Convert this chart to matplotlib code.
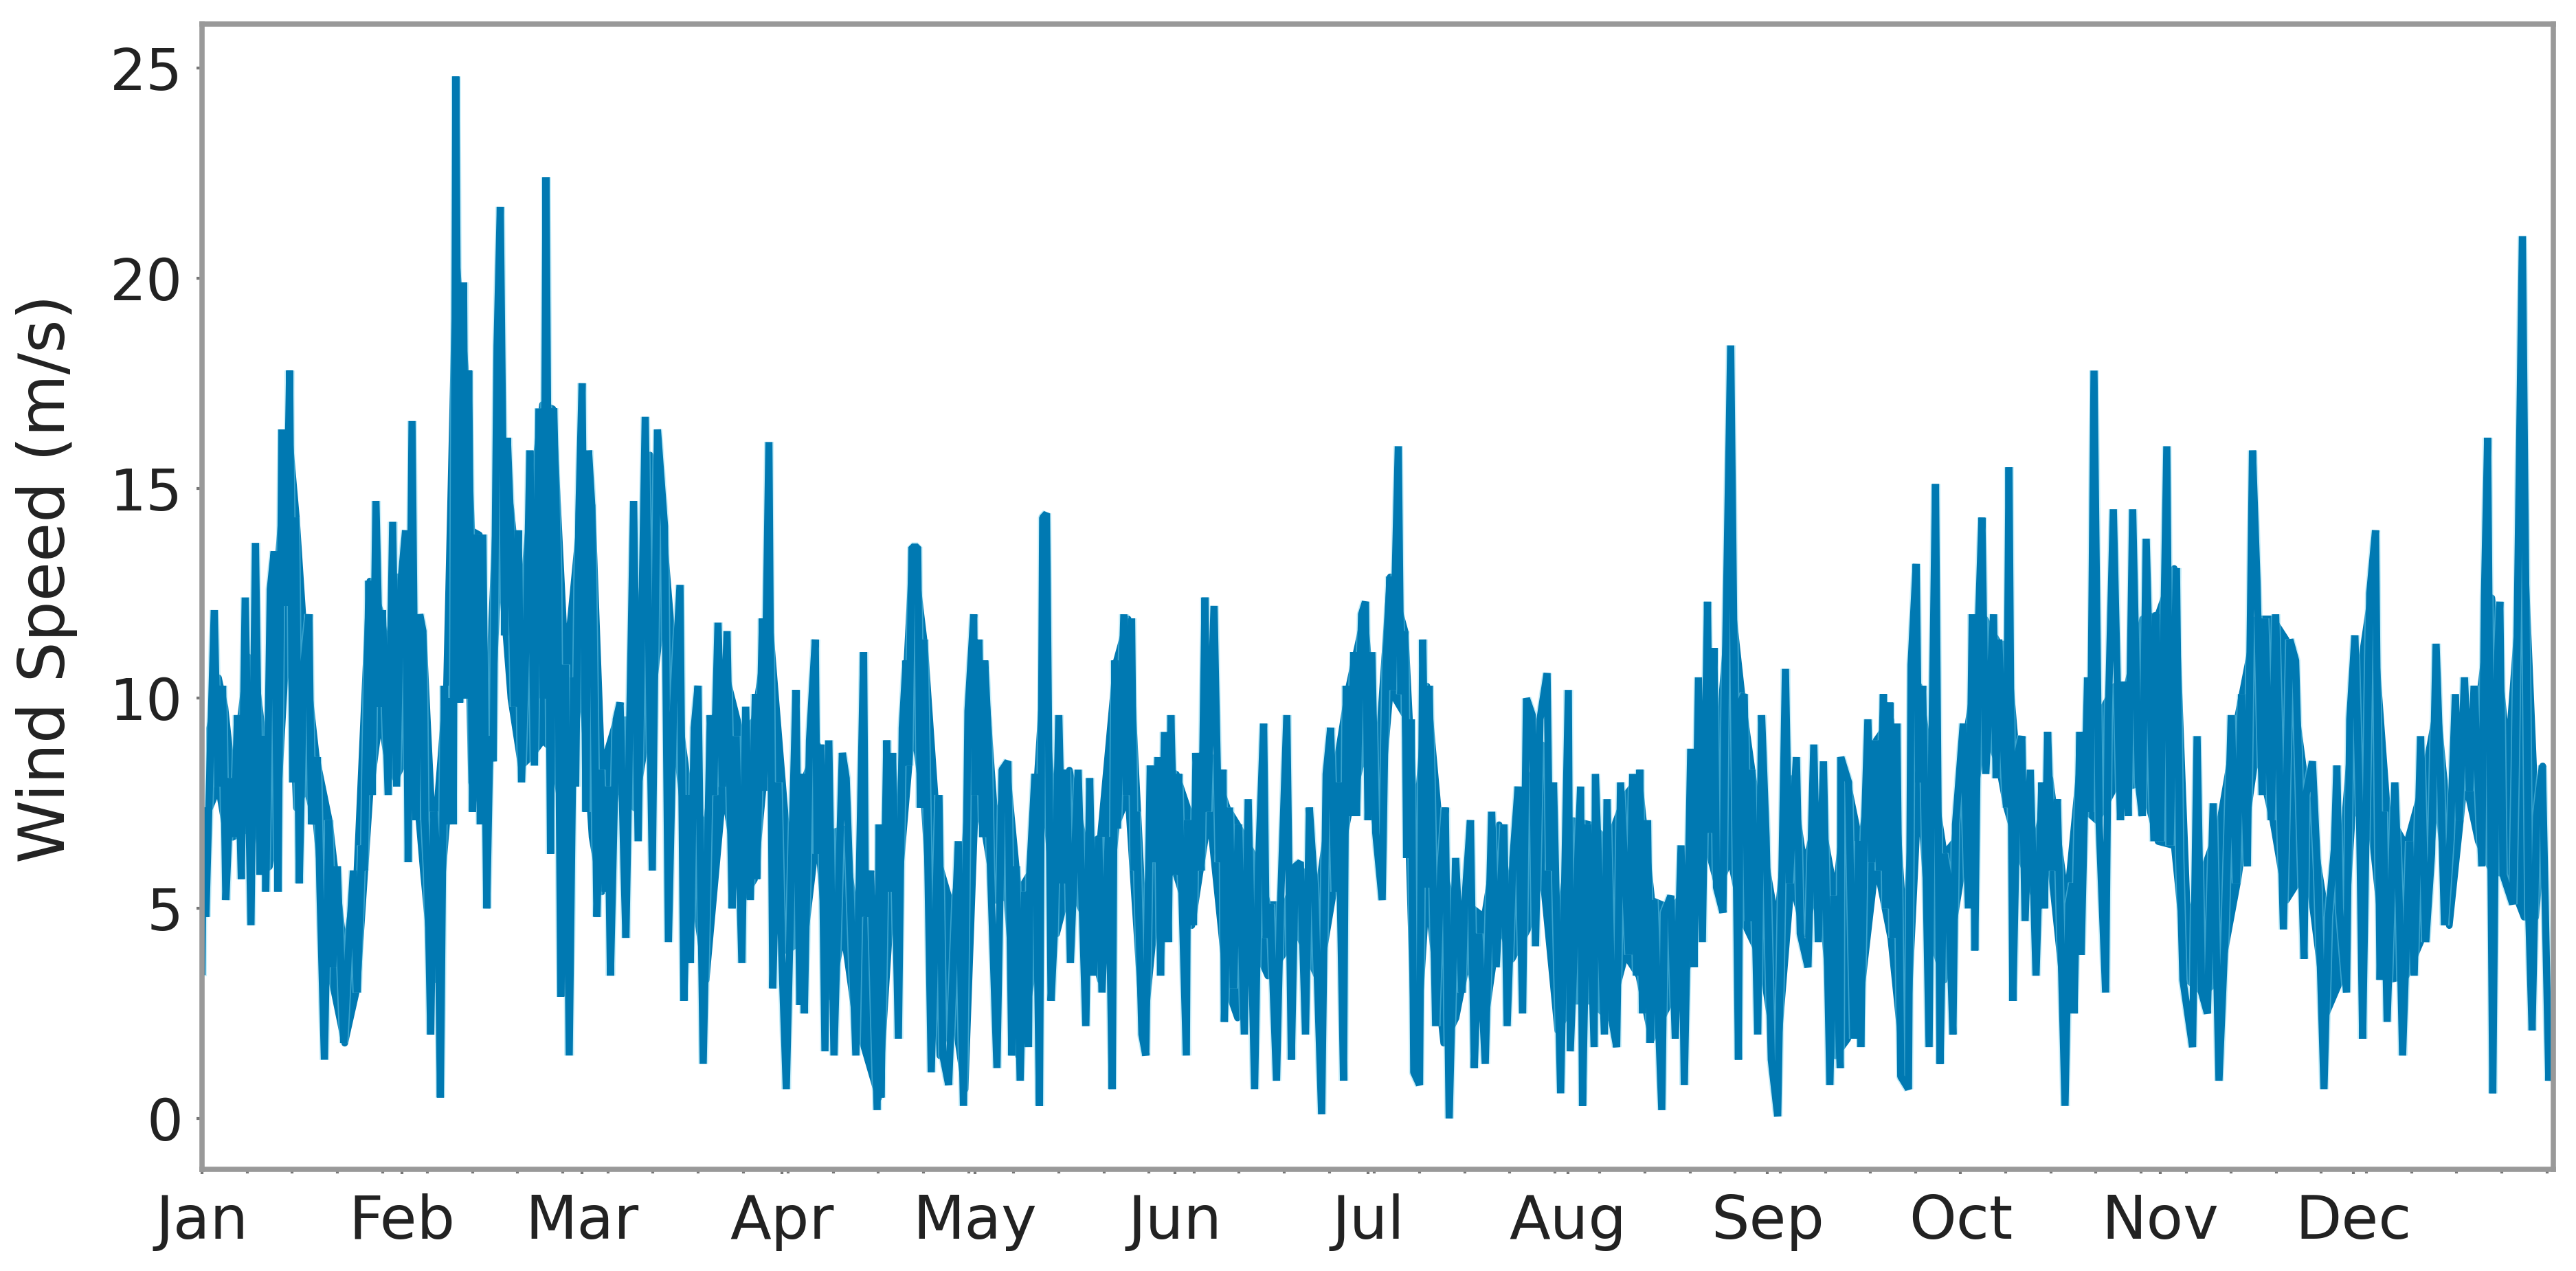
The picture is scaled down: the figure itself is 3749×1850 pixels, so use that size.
import numpy as np
import matplotlib
matplotlib.use("Agg")
import matplotlib.pyplot as plt

# wind speed, one pair of lists per two month stretch
jan_feb_days = [0.0, 0.2, 0.6, 1.9, 2.5, 3.2, 3.7, 4.5, 5.0, 5.5, 6.1, 6.7, 7.6, 8.3, 9.0, 9.6, 9.9, 10.6, 11.2, 11.8,
                12.4, 13.0, 13.6, 14.1, 14.5, 15.1, 15.8, 16.6, 17.0, 17.9, 18.3, 19.0, 19.7, 20.3, 21.0, 22.0, 22.7,
                23.5, 24.1, 24.8, 25.2, 25.9, 26.4, 27.0, 27.7, 28.0, 28.9, 29.6, 30.2, 30.9, 31.6, 32.0, 32.6, 33.2,
                33.8, 34.3, 34.6, 35.0, 35.5, 36.0, 36.6, 37.0, 37.6, 38.1, 38.7, 39.0, 39.4, 40.0, 40.6, 41.0, 41.4,
                42.0, 42.6, 43.2, 43.6, 44.2, 44.7, 45.2, 45.8, 46.3, 47.0, 47.4, 47.9, 48.5, 49.1, 49.6, 50.4, 50.9,
                51.6, 52.3, 53.0, 53.4, 54.1, 54.6, 55.2, 55.7, 56.4, 57.0, 57.7, 58.0, 58.5, 59.0, 59.6, 60.0, 60.5]
jan_feb_speed = [3.5, 7.4, 4.8, 12.1, 7.9, 10.3, 5.2, 8.1, 6.7, 9.6, 5.7, 12.4, 4.6, 13.7, 5.8, 9.1, 5.4, 12.6, 13.5, 5.4,
                 16.4, 12.2, 17.8, 8.0, 14.3, 5.6, 10.8, 12.0, 7.0, 8.6, 5.5, 1.4, 7.1, 3.6, 6.0, 1.8, 3.9,
                 5.9, 3.0, 6.5, 5.9, 12.8, 7.7, 14.7, 9.8, 12.1, 7.7, 14.2, 7.9, 12.8, 14.0, 6.1, 16.6, 7.1,
                 12.0, 11.6, 7.1, 5.9, 2.0, 7.3, 5.9, 0.5, 10.3, 7.0, 10.0, 7.0, 24.8, 9.9, 19.9, 10.0, 17.8,
                 7.3, 13.9, 7.0, 13.9, 5.0, 9.1, 8.5, 18.4, 21.7, 11.5, 16.2, 14.2, 9.8, 14.0, 8.0, 11.9, 15.9,
                 8.4, 16.9, 10.0, 22.4, 6.3, 16.9, 13.0, 2.9, 10.8, 1.5, 10.5, 7.9, 14.4, 17.5, 7.3, 15.9, 14.6]

mar_apr_days = [61.3, 61.9, 62.6, 63.0, 63.4, 64.3, 64.9, 65.5, 65.8, 67.0, 67.7, 68.8, 69.9, 70.7, 71.8, 72.4, 73.2,
                74.2, 74.8, 75.6, 75.8, 76.4, 77.0, 77.8, 78.9, 79.4, 80.1, 80.8, 81.5, 82.3, 82.9, 83.8, 84.4, 85.1,
                85.9, 86.1, 87.0, 87.2, 88.0, 88.6, 89.4, 90.0, 90.7, 91.6, 92.2, 92.8, 93.2, 93.5, 94.3, 95.2, 95.5,
                96.1, 96.7, 97.3, 98.1, 99.4, 100.0, 101.5, 102.7, 103.0, 103.8, 104.8, 105.1, 105.4, 106.3, 106.8,
                107.2, 108.1, 108.7, 109.3, 109.7, 110.2, 111.1, 111.5, 112.1, 113.2, 114.4, 115.0, 115.9, 117.4,
                118.2, 118.9, 119.8, 120.0, 120.6, 121.2, 121.5]
mar_apr_speed = [4.8, 8.3, 5.4, 7.9, 3.4, 9.5, 9.9, 6.0, 4.3, 14.7, 6.6, 16.7, 5.9, 16.4, 14.1, 4.2, 9.8,
                 12.7, 2.8, 7.7, 3.7, 9.3, 10.3, 1.3, 9.6, 7.7, 11.8, 7.9, 11.6, 5.0, 9.1, 3.7, 9.8, 5.2,
                 10.1, 5.7, 11.9, 7.8, 16.1, 3.1, 8.0, 3.9, 0.7, 6.6, 10.2, 2.7, 8.2, 2.5, 9.0, 11.4, 6.3,
                 8.9, 1.6, 9.0, 1.5, 8.7, 8.1, 1.5, 11.1, 4.8, 5.9, 0.2, 7.0, 0.5, 9.0, 5.4,
                 8.7, 1.9, 9.3, 10.9, 8.4, 13.6, 13.6, 7.4, 11.4, 1.1, 7.7, 1.5, 0.8, 6.6,
                 0.3, 9.7, 12.0, 7.7, 11.4, 6.7, 10.9]

may_jun_days = [122.0, 122.4, 123.4, 124.2, 125.1, 125.7, 126.4, 127.0, 127.7, 128.3, 128.5, 129.3, 130.0, 130.5, 131.1,
                131.8, 132.3, 133.0, 133.6, 134.2, 134.8, 136.0, 137.2, 137.8, 138.4, 139.2, 139.7, 140.7, 141.3, 141.7,
                142.1, 143.1, 143.5, 144.3, 144.7, 145.0, 145.9, 146.5, 147.2, 147.7, 148.4, 148.8, 149.4, 150.0, 150.4,
                151.0, 151.6, 152.8, 153.0, 153.9, 154.3, 155.1, 155.7, 156.1, 157.1, 157.9, 158.5, 158.7, 159.5, 160.1,
                160.9, 161.8, 162.4, 163.4, 164.0, 164.8, 165.2, 165.8, 166.8, 167.4, 168.4, 169.1, 169.7, 170.5, 171.3,
                171.9, 172.7, 173.8, 174.5, 175.2, 175.9, 176.4, 177.2, 177.6, 178.2, 178.8, 179.2, 180.0, 180.6, 181.0,
                181.6]
may_jun_speed = [9.3, 5.9, 1.2, 8.3, 8.5, 1.5, 6.0, 0.9, 5.4, 1.7, 5.9, 8.2, 0.3, 14.3, 14.4,
                 2.8, 4.4, 9.6, 5.6, 8.3, 3.7, 8.3, 2.2, 8.1, 3.4, 6.7, 3.0, 6.7, 0.7, 10.9,
                 6.9, 12.0, 7.7, 11.9, 5.9, 7.3, 2.0, 1.5, 8.4, 6.1, 8.6, 3.4, 9.2, 4.2, 9.6,
                 5.8, 8.2, 1.5, 7.1, 4.6, 8.7, 5.9, 12.4, 7.3, 12.2, 6.1, 8.3, 2.3, 7.4, 3.1,
                 7.0, 2.0, 7.6, 0.7, 6.0, 9.4, 4.3, 5.1, 0.9, 5.0, 9.6, 1.4, 6.0, 6.1, 2.0,
                 7.4, 5.5, 0.1, 8.2, 9.3, 5.4, 8.0, 0.9, 10.3, 7.2, 11.1, 7.2, 12.0, 12.3, 7.1,
                 11.1]

jul_aug_days = [182.2, 183.2, 183.8, 184.4, 184.8, 185.7, 186.1, 186.7, 187.0, 187.7, 188.1, 189.0, 189.5, 190.1, 190.5,
                191.5, 192.3, 193.0, 193.6, 194.6, 195.6, 196.0, 196.9, 197.5, 198.2, 199.2, 200.2, 200.9, 202.1, 202.6,
                203.5, 204.3, 205.0, 205.6, 206.5, 207.0, 207.7, 208.8, 209.2, 209.8, 210.9, 212.1, 212.4, 214.0, 214.3,
                215.1, 216.1, 216.3, 217.7, 218.1, 218.9, 219.6, 220.2, 221.5, 222.1, 222.7, 223.2, 223.6, 224.4, 224.8,
                225.4, 226.6, 227.0, 228.0, 228.7, 229.6, 230.1, 231.1, 231.6, 232.3, 232.9, 233.7, 234.1, 234.7, 235.1,
                236.1, 236.5, 237.3, 238.5, 238.8, 239.4, 240.0, 240.6, 241.5, 242.1]
jul_aug_speed = [6.8, 5.2, 10.8, 12.9, 10.2, 16.0, 10.1, 11.6, 6.2, 9.5, 1.1, 0.8, 11.4, 5.5, 10.3,
                 2.2, 5.9, 7.4, 0.0, 6.2, 3.0, 5.1, 7.1, 1.2, 4.4, 1.3, 7.3, 3.6, 7.0, 2.2,
                 6.2, 7.9, 2.5, 10.0, 9.6, 4.1, 9.5, 10.6, 5.9, 8.0, 0.6, 10.2, 1.6, 7.9, 0.3,
                 7.0, 1.7, 8.2, 2.0, 7.6, 2.3, 1.7, 8.0, 3.9, 8.2, 3.4, 8.3, 2.5, 7.1, 1.8,
                 5.2, 0.2, 4.9, 5.3, 1.9, 6.5, 0.8, 8.8, 3.6, 10.5, 4.2, 12.3, 6.8, 11.2, 5.5,
                 4.9, 11.0, 18.4, 1.4, 9.9, 10.1, 4.7, 8.3, 2.0, 9.6]

sep_oct_days = [242.8, 243.6, 244.6, 245.8, 246.4, 247.5, 248.1, 249.3, 250.2, 250.9, 251.7, 252.7, 253.3, 254.3, 254.4,
                255.6, 256.4, 257.2, 257.5, 258.0, 258.6, 259.2, 259.8, 260.4, 261.0, 261.4, 262.0, 262.5, 263.1, 263.7,
                264.9, 265.3, 266.1, 266.5, 267.1, 268.1, 268.5, 269.1, 269.8, 270.4, 271.0, 271.8, 272.2, 273.4, 274.2,
                274.8, 275.2, 275.8, 276.3, 276.9, 278.1, 278.5, 278.9, 280.1, 280.5, 281.1, 281.9, 282.5, 283.0, 283.8,
                284.7, 285.6, 286.0, 286.5, 287.2, 288.0, 289.2, 289.8, 290.4, 290.6, 291.5, 291.7, 292.7, 293.1, 293.7,
                294.5, 295.5, 295.9, 296.7, 297.8, 298.4, 299.0, 299.7, 300.6, 301.2, 301.8, 303.0, 303.3]
sep_oct_speed = [6.7, 1.4, 0.05, 10.7, 5.6, 8.6, 4.4, 3.6, 8.9, 4.2, 8.5, 0.8, 5.3, 1.2, 8.6,
                 8.0, 1.9, 6.6, 1.7, 6.6, 9.5, 6.1, 9.0, 5.9, 10.1, 5.0, 9.9, 4.3, 9.4, 1.0,
                 0.7, 10.8, 13.2, 8.0, 10.3, 1.7, 8.6, 15.1, 1.3, 6.3, 5.8, 2.0, 7.0, 9.4, 5.0,
                 12.0, 4.0, 12.0, 14.3, 8.2, 12.0, 8.1, 11.4, 7.4, 15.5, 2.8, 8.7, 9.1, 4.7, 8.3,
                 3.4, 8.0, 5.0, 9.2, 5.9, 7.6, 0.3, 5.1, 5.6, 2.5, 9.2, 3.9, 10.5, 7.3, 17.8,
                 7.0, 3.0, 9.5, 14.5, 7.1, 10.4, 7.2, 14.5, 8.0, 7.2, 13.8, 6.6, 12.0]

nov_dec_days = [304.0, 305.0, 305.5, 306.5, 307.0, 307.5, 309.0, 309.7, 310.4, 311.3, 312.2, 313.1, 314.0, 315.0, 315.8,
                316.6, 317.5, 318.3, 319.0, 319.8, 320.2, 321.2, 321.9, 323.1, 324.1, 325.0, 326.3, 326.6, 327.6, 328.4,
                329.4, 330.1, 331.0, 331.4, 331.8, 332.9, 333.4, 334.2, 334.9, 335.4, 335.9, 336.5, 337.4, 338.1, 338.6,
                339.2, 340.4, 341.1, 341.6, 342.7, 343.4, 344.4, 345.2, 346.1, 346.8, 347.5, 348.1, 349.0, 349.8, 350.4,
                351.2, 352.0, 352.7, 353.9, 354.3, 354.8, 355.6, 356.2, 356.7, 357.2, 358.7, 359.1, 360.2, 361.2, 361.7,
                362.4, 363.3, 364.3, 364.8]
nov_dec_speed = [6.6, 16.0, 6.5, 13.1, 6.2, 3.3, 1.7, 9.1, 3.0, 2.5, 7.5, 0.9, 4.2, 9.6, 5.6,
                 10.1, 6.0, 15.9, 12.8, 7.7, 11.9, 7.1, 12.0, 4.5, 11.4, 10.9, 3.8, 7.7, 8.5, 5.9,
                 0.7, 4.8, 6.4, 8.4, 5.0, 3.0, 9.5, 11.5, 7.4, 1.9, 6.6, 12.5, 14.0, 3.3, 7.3,
                 2.3, 8.0, 5.0, 1.5, 6.6, 3.4, 9.1, 4.2, 6.3, 11.3, 8.1, 4.6, 6.7, 10.1, 7.1,
                 10.5, 7.8, 10.3, 6.0, 12.4, 16.2, 0.6, 10.4, 12.3, 5.8, 5.1, 8.4, 21.0, 4.8, 2.1,
                 7.2, 8.4, 0.9, 2.0]

# the solid part of the trace, upper and lower edge, where the line swings too fast to follow
core_days = [1.15, 2.5, 3.5, 4.7, 5.9, 7.1, 8.3, 9.4, 10.4, 11.4, 13.4, 14.6, 16.1, 17.7, 19.7, 22.1, 24.0, 26.0, 27.6,
             28.8, 30.0, 31.3, 32.7, 34.3, 35.9, 37.9, 39.4, 40.8, 41.8, 43.0, 44.2, 46.1, 47.9, 49.5, 50.9, 52.8, 54.4,
             56.4, 58.8, 60.5,
             62.0, 64.3, 67.1, 69.5, 71.5, 73.8, 75.6, 78.2, 80.9, 83.7, 85.7, 88.0, 90.8, 93.5, 95.5, 97.5, 99.5,
             101.4, 105.0, 107.0, 108.2, 110.3, 112.1, 114.5, 116.4, 118.4, 120.0, 121.6,
             123.2, 124.9, 126.7, 128.7, 130.5, 132.6, 134.6, 137.0, 139.4, 141.9, 143.7, 146.1, 148.8, 151.2, 153.6,
             156.3, 159.1, 160.7, 163.4, 165.4, 168.2, 170.1, 173.3, 175.7, 178.0, 180.4, 182.4,
             184.4, 186.7, 188.3, 190.1, 192.7, 194.6, 196.4, 199.0, 201.3, 203.3, 205.7, 208.0, 210.4, 212.8, 215.5,
             218.3, 220.9, 223.0, 225.0, 228.2, 230.5, 233.1, 235.3, 237.2, 239.2, 242.0,
             244.4, 246.7, 248.7, 251.0, 253.5, 255.4, 257.4, 259.8, 262.1, 264.3, 266.5, 268.1, 270.4, 272.0, 274.0,
             276.7, 278.9, 280.1, 282.3, 284.6, 286.8, 289.4, 291.9, 294.1, 296.9, 298.8, 301.2, 303.6,
             306.1, 308.2, 310.6, 313.1, 316.0, 318.9, 321.4, 323.5, 326.8, 329.7, 332.2, 333.8, 336.7, 339.2, 342.1,
             344.6, 346.9, 348.8, 351.2, 353.3, 355.4, 357.9, 360.4, 362.2, 363.3]
core_upper = [9.3, 10.5, 9.8, 8.1, 9.5, 11.0, 10.5, 9.1, 8.5, 12.6, 16.4, 14.3, 10.8, 8.6, 7.1, 3.9, 5.9, 12.8, 12.1,
              11.0, 12.9, 12.9, 12.0, 11.5, 6.4, 10.3, 20.5, 17.9, 14.0, 13.9, 9.1, 16.2, 14.5, 12.0, 14.5, 17.0, 16.9,
              10.7, 14.5, 14.6,
              8.3, 9.5, 9.5, 15.8, 14.1, 9.8, 7.7, 6.9, 10.8, 9.1, 9.5, 11.9, 6.6, 8.1, 8.9, 6.8, 6.9,
              4.8, 5.3, 6.9, 7.4, 13.6, 11.3, 6.0, 5.0, 6.5, 10.2, 10.2,
              6.8, 8.3, 5.4, 5.9, 10.3, 6.6, 8.3, 6.5, 6.7, 10.9, 11.9, 4.6, 8.4, 8.2, 7.1,
              8.7, 7.4, 7.0, 6.2, 5.1, 5.1, 6.0, 5.5, 8.1, 10.3, 12.0, 8.4,
              12.9, 11.6, 6.7, 10.3, 5.9, 4.8, 5.1, 4.8, 7.0, 4.8, 7.9, 8.9, 4.5, 7.1, 7.0,
              6.6, 7.7, 8.1, 5.2, 5.0, 5.5, 9.8, 8.9, 12.6, 9.8, 6.7,
              4.6, 8.1, 6.0, 7.4, 5.3, 8.0, 6.5, 9.0, 9.5, 4.1, 10.3, 8.6, 6.3, 6.6, 9.3,
              11.9, 11.3, 11.3, 7.4, 6.6, 8.1, 5.1, 9.1, 9.5, 10.3, 10.3, 11.9, 12.0,
              13.1, 4.6, 5.9, 7.0, 9.6, 11.9, 11.9, 11.4, 7.6, 4.8, 6.4, 9.5, 12.5, 7.3, 6.5,
              7.9, 9.8, 6.8, 9.6, 9.8, 12.4, 8.6, 13.8, 7.2, 8.4]
core_lower = [7.4, 7.9, 7.0, 6.7, 6.8, 6.9, 7.3, 5.9, 6.0, 6.7, 12.2, 7.4, 7.9, 7.0, 3.6, 1.8, 3.1, 7.7, 9.6,
              8.5, 8.1, 8.5, 8.8, 5.9, 3.3, 7.0, 17.7, 14.6, 8.0, 7.6, 7.1, 13.6, 10.0, 8.4, 8.6, 9.0, 8.8,
              6.7, 10.7, 6.7,
              5.4, 7.9, 7.4, 9.6, 12.2, 8.6, 6.2, 3.3, 7.9, 5.2, 5.7, 9.4, 4.0, 4.3, 6.9, 2.9, 4.5,
              2.4, 0.5, 5.3, 5.7, 9.5, 7.4, 1.5, 2.8, 0.7, 7.6, 6.7,
              5.2, 5.3, 1.5, 3.3, 8.3, 4.4, 5.6, 4.8, 3.3, 7.0, 7.7, 2.0, 6.2, 5.8, 4.6,
              7.3, 3.1, 2.4, 4.1, 3.4, 4.0, 4.4, 3.3, 5.5, 7.3, 8.8, 6.7,
              10.2, 9.6, 1.2, 5.5, 1.8, 2.4, 3.8, 2.2, 4.7, 3.8, 4.5, 5.9, 2.1, 2.8, 2.8,
              2.4, 3.9, 3.4, 1.9, 2.9, 3.6, 6.8, 5.5, 6.2, 4.7, 3.8,
              1.4, 5.7, 4.4, 5.9, 1.5, 1.9, 2.9, 6.1, 4.3, 1.0, 8.1, 4.5, 3.3, 4.8, 6.7,
              9.3, 8.4, 7.4, 6.2, 5.2, 6.2, 2.4, 7.4, 7.1, 7.9, 7.9, 8.0, 6.6,
              6.5, 3.3, 3.0, 3.3, 5.7, 8.8, 7.1, 5.2, 6.0, 2.5, 3.4, 7.4, 6.9, 3.3, 3.4,
              4.3, 7.9, 4.6, 8.1, 6.6, 5.9, 5.8, 4.8, 4.8, 6.7]

month_starts = [0, 31, 59, 90, 120, 151, 181, 212, 243, 273, 304, 334]
month_names = ["Jan", "Feb", "Mar", "Apr", "May", "Jun", "Jul", "Aug", "Sep", "Oct", "Nov", "Dec"]
speed_ticks = [0, 5, 10, 15, 20, 25]

days = jan_feb_days + mar_apr_days + may_jun_days + jul_aug_days + sep_oct_days + nov_dec_days
speed = jan_feb_speed + mar_apr_speed + may_jun_speed + jul_aug_speed + sep_oct_speed + nov_dec_speed

fig = plt.figure(figsize=(37.49, 18.5), dpi=100)
ax = fig.add_axes([294 / 3749, 148 / 1850, (3716 - 294) / 3749, (1702 - 35) / 1850])

# solid band first, then the trace over it
ax.fill_between(core_days, core_lower, core_upper, facecolor="#0079b2", edgecolor="#0079b2", lw=7)
ax.plot(days, speed, color="#7fd8f2", alpha=0.45, lw=10, solid_joinstyle="bevel")
ax.plot(days, speed, color="#0079b2", lw=7.5, solid_joinstyle="bevel")

ax.set_xlim(0, 365)
ax.set_ylim(-1.21, 26.05)
ax.set_yticks(speed_ticks)
ax.set_xticks(month_starts)
ax.set_xticklabels(month_names)
ax.set_xticks(np.arange(0, 365, 7), minor=True)
ax.tick_params(axis="y", which="major", labelsize=60, labelcolor="#222222", length=6, width=3, color="#777777", pad=14)
ax.tick_params(axis="x", which="major", labelsize=63, labelcolor="#222222", length=5, width=3, color="#777777", pad=20)
ax.tick_params(axis="x", which="minor", length=4, width=3, color="#777777")
ax.set_ylabel("Wind Speed (m/s)", fontsize=67, color="#222222")
ax.yaxis.set_label_coords(-0.053, 0.516)

for s in ax.spines.values():
    s.set_color("#999999")
    s.set_linewidth(5.5)

fig.savefig("out.png", dpi=100)
